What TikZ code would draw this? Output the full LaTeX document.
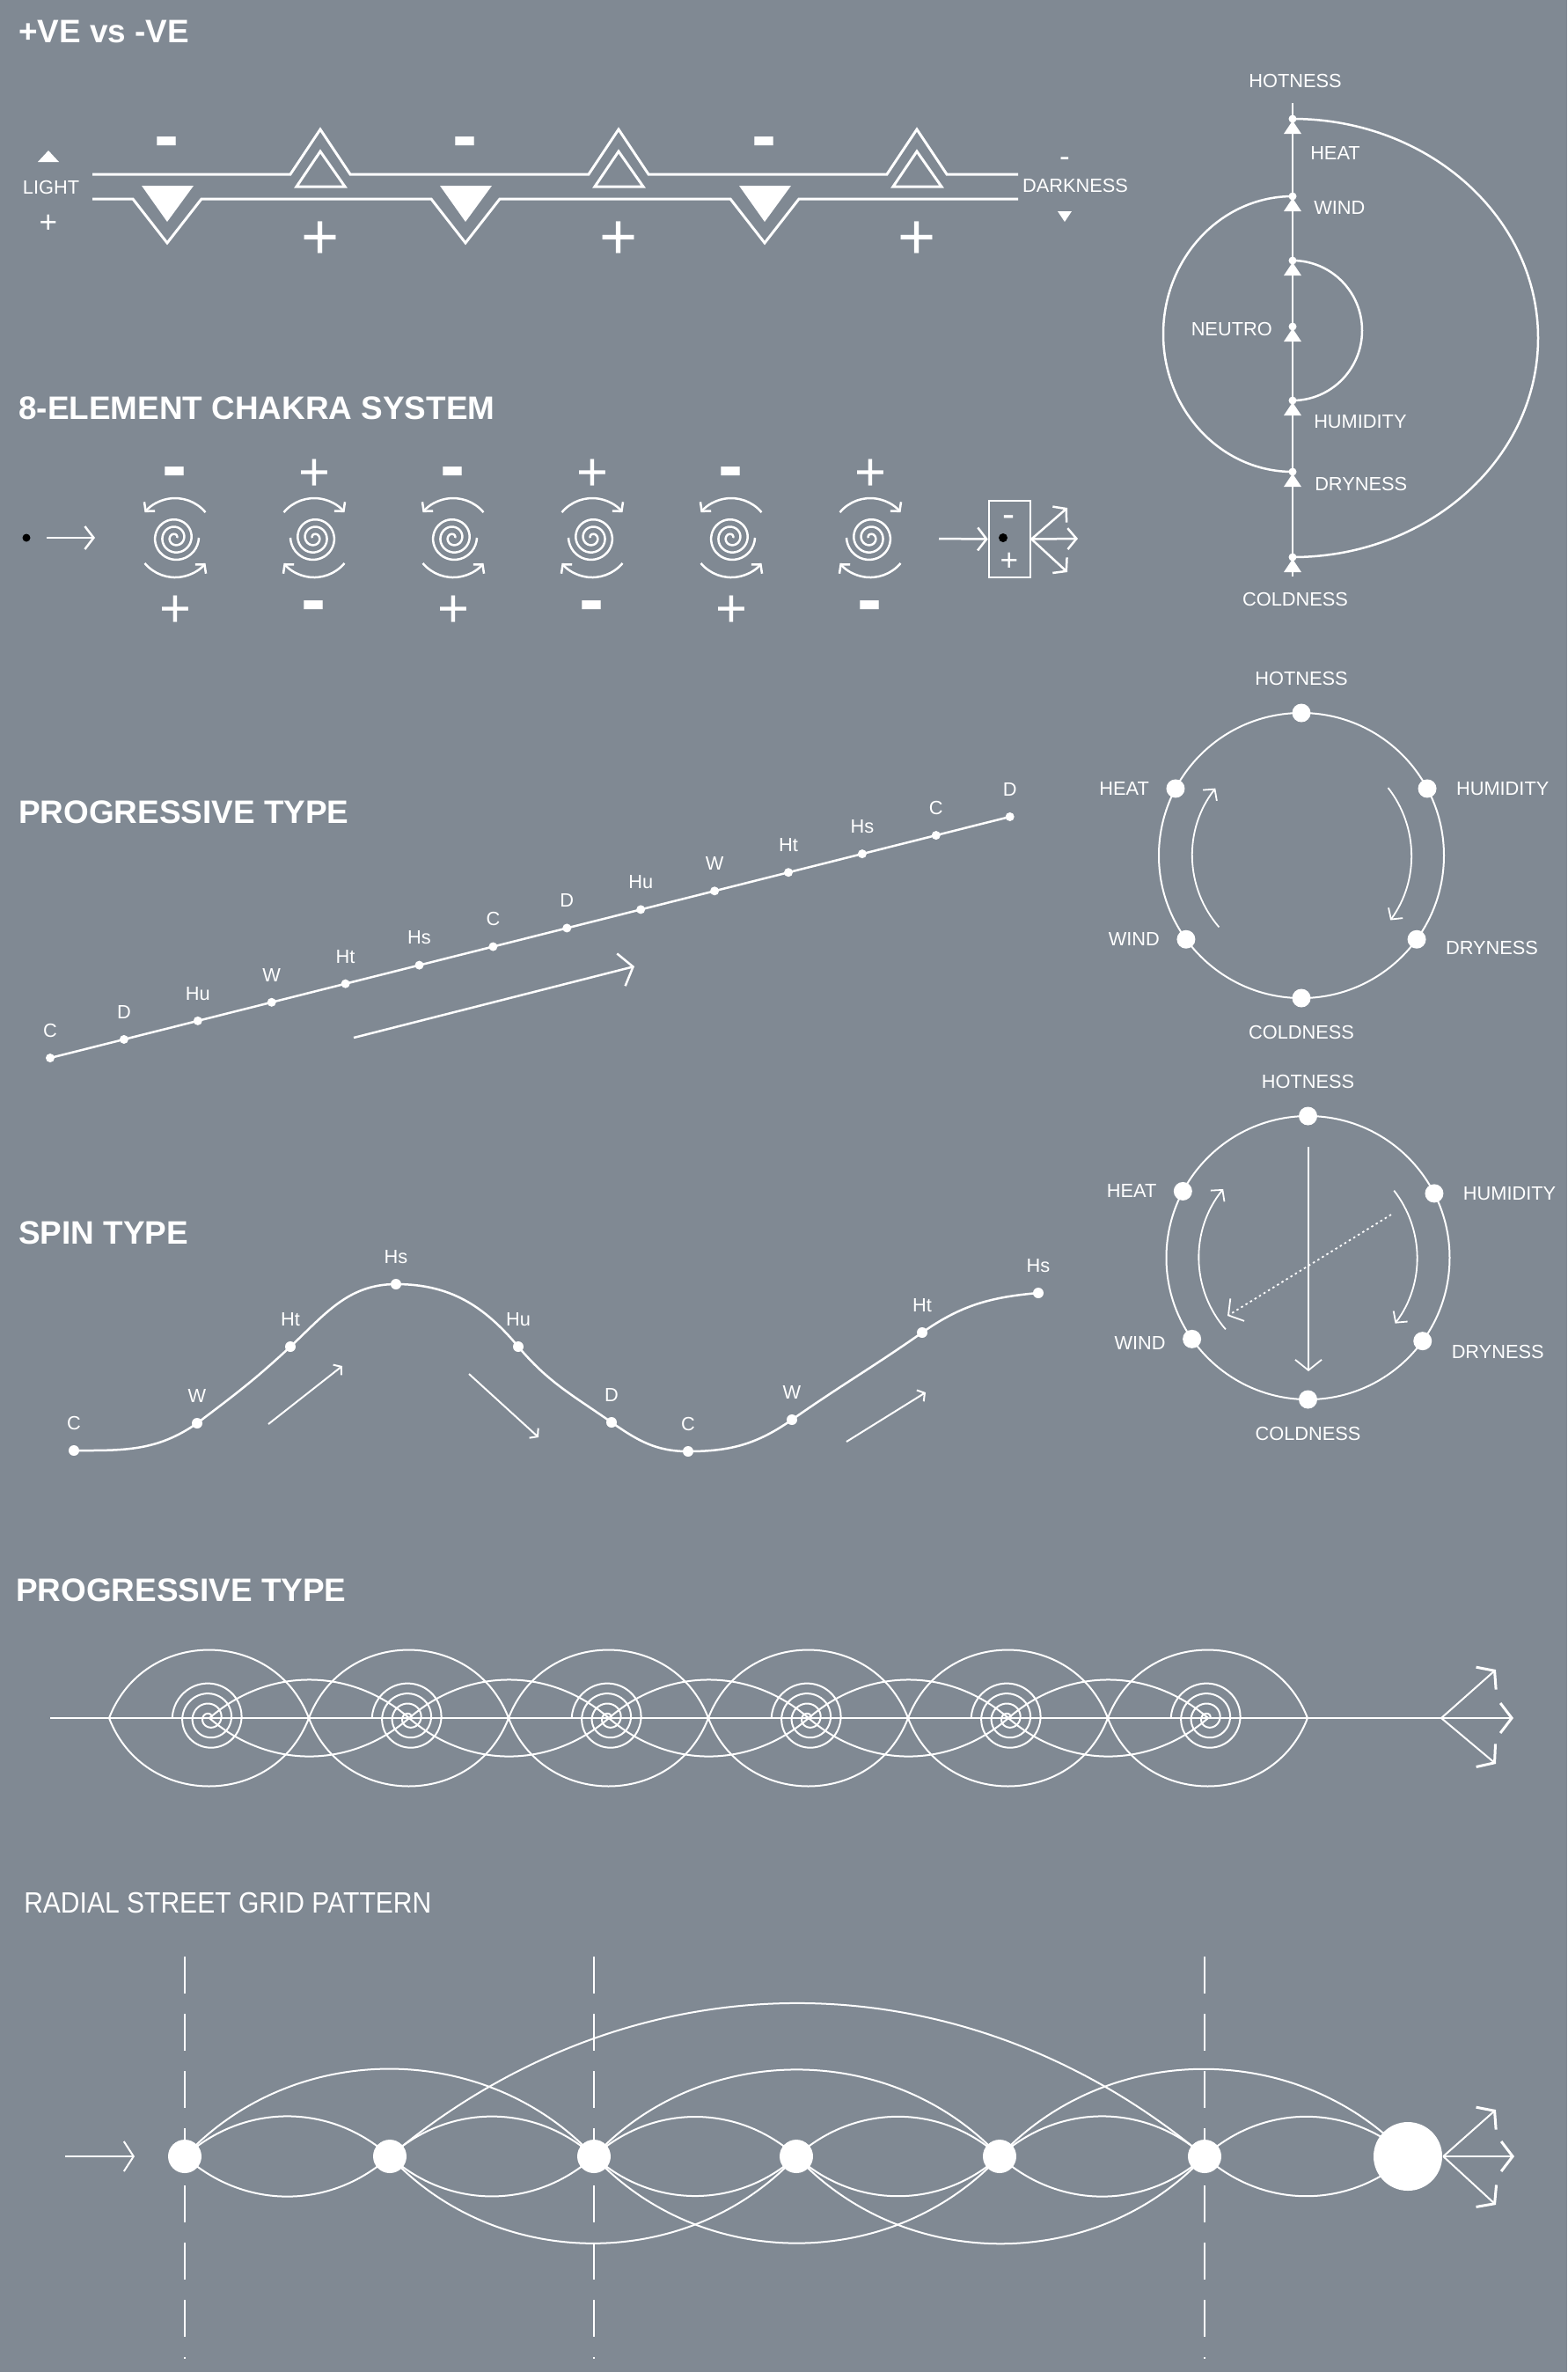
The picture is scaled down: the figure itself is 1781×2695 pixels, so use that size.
\documentclass[tikz,border=0pt]{standalone}
\usepackage{fontspec}
\usepackage{graphicx}
\setmainfont{Liberation Sans}
\usetikzlibrary{positioning,arrows.meta}
\definecolor{bgcol}{RGB}{128,137,147}

\begin{document}
\begin{tikzpicture}[x=0.1mm,y=0.1mm,color=white,line width=0.25mm]

    \tikzset{
      title/.style={anchor=west,inner sep=0pt,font=\fontsize{10.5}{12}\selectfont\bfseries},
      lbl/.style={inner sep=0pt,font=\fontsize{6.2}{7}\selectfont},
      plussign/.style 2 args={inner sep=0pt,anchor=base,yshift=-#2,font=\fontsize{#1}{#1}\selectfont},
      minussign/.style 2 args={inner sep=0pt,anchor=base,yshift=-#2,font=\fontsize{#1}{#1}\selectfont\bfseries},
      chev/.style 2 args={-{Straight Barb[length=#1,width=#2]}},
      fanhead/.style={-{Straight Barb[length=1.3mm,width=3.4mm,line width=0.3mm]}},
      dot/.style={circle,fill,inner sep=0pt,minimum size=#1},
      dot/.default=1mm,
    }
    \fill[bgcol] (0,0) rectangle (1781,-2695);
    \useasboundingbox (0,0) rectangle (1781,-2695);

    % +VE vs -VE
    \node[title] at (20,-36) {+VE vs -VE};
    \draw[line width=0.3mm] (105,-198) \foreach \c in {364,703,1042}{ -- (\c-34,-198) -- (\c,-147) -- (\c+34,-198) } -- (1157,-198);
    \draw[line width=0.3mm] (105,-226) \foreach \c in {190,529,869}{ -- (\c-39,-226) -- (\c,-276) -- (\c+39,-226) } -- (1157,-226);
    \foreach \c in {190,529,869}{
      \fill (\c-29,-211) -- (\c+30,-211) -- (\c,-252) -- cycle;
      \node[minussign={24}{2.2mm}] at (\c,-160) {-};
    }
    \foreach \c in {364,703,1042}{
      \draw[line width=0.3mm] (\c-27,-212) -- (\c+28,-212) -- (\c,-172) -- cycle;
      \node[plussign={21}{2.6mm}] at (\c,-268) {+};
    }
    \node[lbl] (light) at (58,-213) {LIGHT};
    \fill (43,-184) -- (67,-184) -- (55,-171) -- cycle;
    \node[plussign={10}{1.25mm}] at (55,-252) {+};
    \node[lbl] (dark) at (1222,-211) {DARKNESS};
    \node[plussign={10}{0.9mm}] at (1210,-180) {-};
    \fill (1202,-240) -- (1218,-240) -- (1210,-252) -- cycle;

    % hotness axis
    \coordinate (axtop) at (1469,-117);
    \coordinate (axbot) at (1469,-655);
    \draw (axtop) -- (axbot);
    \foreach \n/\y in {hot/135,wnd/223,upin/296,neu/371,hum/455,dry/536,cold/633}{
      \node[dot=0.9mm] (\n) at (1469,-\y) {};
      \fill ([yshift=-0.2mm]\n.center) -- ++(10,-15) -- ++(-20,0) -- cycle;
    }
    \draw (hot.center) arc[start angle=90,end angle=-90,x radius=279,y radius=249];
    \draw (wnd.center) arc[start angle=90,end angle=270,x radius=147,y radius=156.5];
    \draw (upin.center) arc[start angle=90,end angle=-90,x radius=79,y radius=79.5];
    \node[lbl] at (1472,-92) {HOTNESS};
    \node[lbl] at (1472,-681) {COLDNESS};
    \node[lbl,anchor=west] at (1488,-174) {HEAT};
    \node[lbl,anchor=west] at (1492,-236) {WIND};
    \node[lbl,anchor=east] at (1447,-374) {NEUTRO};
    \node[lbl,anchor=west] at (1492,-479) {HUMIDITY};
    \node[lbl,anchor=west] at (1493,-550) {DRYNESS};

    % 8-element chakra
    \node[title] at (20,-464) {8-ELEMENT CHAKRA SYSTEM};
    \node[dot=0.9mm,fill=black] (src) at (30,-611) {};
    \coordinate (srcend) at (108,-611);
    \draw[chev={1mm}{2.6mm},shorten <=1.75mm] (src) -- (srcend);
    \foreach \i in {0,...,5}{
      \coordinate (s\i) at ({199+158*\i},-611);
      \pgfmathsetmacro\m{ifthenelse(mod(\i,2)==0,1,-1)}
      \draw[shift={(s\i)},xscale=\m] plot[domain=0:1080,samples=120,smooth,variable=\t] (\t:{2+\t/43.2});
    }
    \foreach \i in {0,2,4}{
      \draw[chev={0.7mm}{1.6mm}] ([shift={(40:45)}]s\i) arc[start angle=40,end angle=140,radius=45];
      \draw[chev={0.7mm}{1.6mm}] ([shift={(220:45)}]s\i) arc[start angle=220,end angle=320,radius=45];
      \node[minussign={24}{2.2mm}] at ([yshift=7.6mm]s\i) {-};
      \node[plussign={17.5}{2.2mm}] at ([yshift=-7.9mm]s\i) {+};
    }
    \foreach \i in {1,3,5}{
      \draw[chev={0.7mm}{1.6mm}] ([shift={(140:45)}]s\i) arc[start angle=140,end angle=40,radius=45];
      \draw[chev={0.7mm}{1.6mm}] ([shift={(320:45)}]s\i) arc[start angle=320,end angle=220,radius=45];
      \node[plussign={17.5}{2.2mm}] at ([yshift=7.6mm]s\i) {+};
      \node[minussign={24}{2.2mm}] at ([yshift=-7.6mm]s\i) {-};
    }
    \node[draw,minimum width=4.7mm,minimum height=8.7mm,inner sep=0pt] (box) at (1147.5,-612.5) {};
    \coordinate (boxin) at (1067,-612);
    \draw[chev={1mm}{2.6mm}] (boxin) -- (box.west);
    \node[dot=1mm,fill=black] (boxdot) at (1140,-611) {};
    \node[plussign={12}{1.1mm}] at (1147,-587) {-};
    \node[plussign={10}{1.25mm}] at (1147,-636) {+};
    \coordinate (fanA) at (1213,-577);
    \coordinate (fanB) at (1225,-612);
    \coordinate (fanC) at (1213,-650);
    \foreach \f in {fanA,fanB,fanC}
      \draw[chev={1mm}{2.4mm}] (box.east) -- (\f);

    % progressive type
    \node[title] at (20,-923) {PROGRESSIVE TYPE};
    \foreach \lab [count=\k from 0] in {C,D,Hu,W,Ht,Hs,C,D,Hu,W,Ht,Hs,C,D}{
      \node[dot] (p\k) at ({57+83.9*\k},{-1202+21.08*\k}) {};
      \node[lbl,above=1.6mm of p\k] {\lab};
    }
    \draw (p0.center) -- (p13.center);
    \coordinate (pa) at (402,-1179);
    \coordinate (pb) at (721,-1098);
    \draw[chev={1.4mm}{3.8mm}] (pa) -- (pb);

    % spin type
    \node[title] at (20,-1401) {SPIN TYPE};
    \foreach \n/\lab/\x/\y in {c1/C/84/1648,w1/W/224/1617,ht1/Ht/330/1530,hs1/Hs/450/1459,hu1/Hu/589/1530,
                              d1/D/695/1616,c2/C/782/1649,w2/W/900/1613,ht2/Ht/1048/1514,hs2/Hs/1180/1469}{
      \node[dot=1.2mm] (\n) at (\x,-\y) {};
      \node[lbl,above=1.5mm of \n] {\lab};
    }
    \draw (c1.center) to[out=0,in=215] (w1.center) to[out=37,in=223] (ht1.center)
      to[out=43,in=180] (hs1.center) to[out=0,in=130] (hu1.center) to[out=-50,in=145] (d1.center)
      to[out=-35,in=180] (c2.center) to[out=0,in=215] (w2.center) to[out=35,in=215] (ht2.center)
      to[out=35,in=185] (hs2.center);
    \coordinate (sa1) at (305,-1618); \coordinate (sb1) at (389,-1552);
    \coordinate (sa2) at (533,-1561); \coordinate (sb2) at (612,-1633);
    \coordinate (sa3) at (962,-1638); \coordinate (sb3) at (1052,-1582);
    \foreach \k in {1,2,3}
      \draw[chev={0.6mm}{1.5mm},line width=0.2mm] (sa\k) -- (sb\k);

    % element circle, progressive
    \coordinate (cA) at (1479,-972);
    \draw[line width=0.2mm] (cA) circle[radius=162];
    \foreach \n/\a in {hot/90,hum/28,dry/-36,cold/-90,wnd/216,heat/152}
      \node[dot=2.1mm] (a\n) at ([shift={(\a:162)}]cA) {};
    \node[lbl,above=1.8mm of ahot] {HOTNESS};
    \node[lbl,below=1.8mm of acold] {COLDNESS};
    \node[lbl,right=2mm of ahum] {HUMIDITY};
    \node[lbl,right=2mm of adry,yshift=-1mm] {DRYNESS};
    \node[lbl,left=1.7mm of aheat] {HEAT};
    \node[lbl,left=1.7mm of awnd] {WIND};
    \draw[chev={0.9mm}{2mm},line width=0.18mm] ([shift={(221:124)}]cA) arc[start angle=221,end angle=142,radius=124];
    \draw[chev={0.9mm}{2mm},line width=0.18mm] ([shift={(38:125)}]cA) arc[start angle=38,end angle=-36,radius=125];

    % element circle, spin
    \coordinate (cB) at (1486.5,-1429);
    \draw[line width=0.2mm] (cB) circle[radius=161];
    \foreach \n/\a in {hot/90,hum/27,dry/-36,cold/-90,wnd/215,heat/152}
      \node[dot=2.1mm] (b\n) at ([shift={(\a:161)}]cB) {};
    \node[lbl,above=1.8mm of bhot] {HOTNESS};
    \node[lbl,below=1.8mm of bcold] {COLDNESS};
    \node[lbl,right=2mm of bhum] {HUMIDITY};
    \node[lbl,right=2mm of bdry,yshift=-1.2mm] {DRYNESS};
    \node[lbl,left=1.7mm of bheat] {HEAT};
    \node[lbl,left=1.7mm of bwnd,yshift=-0.5mm] {WIND};
    \draw[chev={0.9mm}{2mm},line width=0.18mm] ([shift={(221:124)}]cB) arc[start angle=221,end angle=141,radius=124];
    \draw[chev={0.9mm}{2mm},line width=0.18mm] ([shift={(38:124)}]cB) arc[start angle=38,end angle=-37,radius=124];
    \coordinate (vtop) at (1487,-1303);
    \coordinate (vbot) at (1487,-1558);
    \draw[chev={1.2mm}{3mm},line width=0.18mm] (vtop) -- (vbot);
    \coordinate (dtA) at (1581,-1380);
    \coordinate (dtB) at (1395,-1495);
    \draw[chev={1.2mm}{3mm},line width=0.18mm,dash pattern=on 0.25mm off 0.35mm] (dtA) -- (dtB);

    % progressive type, waves
    \node[title] at (17,-1807) {PROGRESSIVE TYPE};
    \coordinate (axL) at (57,-1952);
    \coordinate (fan) at (1638,-1952);
    \coordinate (tipT) at (1700,-1897);
    \coordinate (tipM) at (1720,-1952);
    \coordinate (tipB) at (1700,-2004);
    \draw[fanhead] (axL) -- (tipM);
    \draw[fanhead,line width=0.2mm] (fan) -- (tipT);
    \draw[fanhead,line width=0.2mm] (fan) -- (tipB);
    \foreach \k in {0,...,6}
      \coordinate (q\k) at ({124+227*\k},-1952);
    \foreach \k [count=\j from 1] in {0,...,5}
      \draw[line width=0.2mm] (q\k) to[bend left=69,looseness=1.25] (q\j) to[bend left=69,looseness=1.25] (q\k);
    \foreach \k in {0,...,5}{
      \coordinate (w\k) at ({238+227*\k},-1952);
      \draw[line width=0.2mm,shift={(w\k)}] plot[domain=0:1260,samples=150,smooth,variable=\t] (\t:{2+\t/31.3});
    }
    \foreach \k [count=\j from 1] in {0,...,4}
      \draw[line width=0.2mm] (w\k) to[bend left=41] (w\j) to[bend left=41] (w\k);

    % radial street grid
    \node[anchor=west,inner sep=0pt,font=\fontsize{9.5}{11}\selectfont] at (26,-2162) {\scalebox{0.9}[1]{RADIAL STREET GRID PATTERN}};
    \foreach \k/\x in {1/210,3/675,6/1369}{
      \coordinate (gt\k) at (\x,-2223);
      \coordinate (gb\k) at (\x,-2680);
      \draw[line width=0.2mm,dash pattern=on 4.2mm off 2.3mm] (gt\k) -- (gb\k);
    }
    \foreach \k/\x in {1/210,2/443,3/675,4/905,5/1136,6/1369}
      \node[dot=3.8mm] (n\k) at (\x,-2450) {};
    \node[dot=7.8mm] (n7) at (1600,-2450) {};
    \foreach \k [count=\j from 2] in {1,...,6}
      \draw[line width=0.2mm] (n\k.center) to[bend left=42] (n\j.center) to[bend left=42] (n\k.center);
    \foreach \a/\b in {1/3,3/5,5/7}
      \draw[line width=0.2mm] (n\a.center) to[bend left=47] (n\b.center);
    \foreach \a/\b in {2/4,3/5,4/6}
      \draw[line width=0.2mm] (n\a.center) to[bend right=47] (n\b.center);
    \draw[line width=0.2mm] (n2.center) to[bend left=40] (n6.center);
    \coordinate (inL) at (74,-2450);
    \coordinate (inR) at (153,-2450);
    \draw[chev={1.1mm}{3.4mm},line width=0.2mm] (inL) -- (inR);
    \coordinate (outT) at (1700,-2397);
    \coordinate (outM) at (1721,-2450);
    \coordinate (outB) at (1700,-2505);
    \foreach \f in {outT,outM,outB}
      \draw[fanhead,line width=0.2mm] (n7.east) -- (\f);

\end{tikzpicture}
\end{document}
